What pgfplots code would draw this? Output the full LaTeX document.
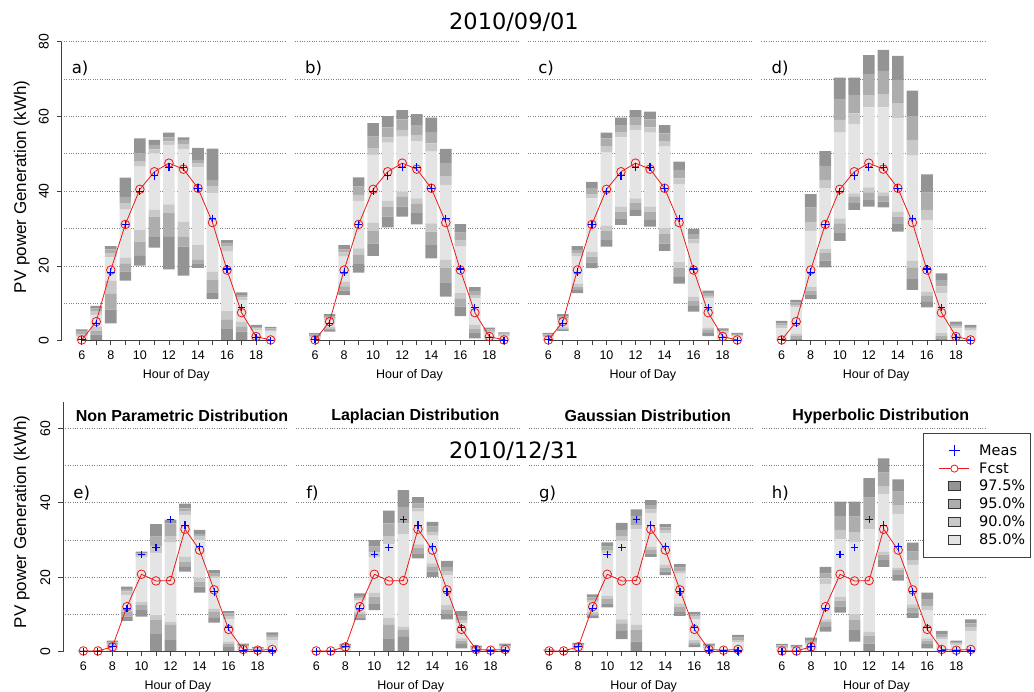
\documentclass[border=0pt]{standalone}
\usepackage{fontspec}
\setmainfont{Liberation Sans}
\newfontfamily\dejavu{DejaVu Sans}
\usepackage{pgfplots}
\usepackage{pgfplotstable}
\pgfplotsset{compat=1.18}
\definecolor{c97}{gray}{0.58}
\definecolor{c95}{gray}{0.68}
\definecolor{c90}{gray}{0.79}
\definecolor{c85}{gray}{0.895}
\definecolor{fred}{RGB}{235,25,25}
\definecolor{mblue}{RGB}{0,0,255}

\pgfplotstableread{
h meas fcst
6 0.3 0.2
7 4.6 5.1
8 18.3 18.9
9 31.1 31.1
10 39.9 40.5
11 44.1 45.2
12 46.4 47.5
13 46.4 45.9
14 40.8 40.8
15 32.7 31.6
16 19.2 18.9
17 8.9 7.5
18 0.9 1.1
19 0.0 0.2
}\tTop
\pgfplotstableread{
h meas fcst
6 0.0 0.2
7 0.0 0.2
8 1.3 1.3
9 11.6 12.1
10 26.1 20.8
11 28.0 19.0
12 35.5 19.1
13 34.0 32.9
14 28.2 27.3
15 16.1 16.6
16 6.5 6.0
17 0.4 0.6
18 0.2 0.4
19 0.2 0.6
}\tBot

\pgfplotstableread{
h l97 l95 l90 l85 u85 u90 u95 u97
6 0 0 0 0 1.1 1.8 2.4 3.0
7 0 1.6 2.7 3.7 6.9 7.8 8.6 9.3
8 4.6 8.3 12.5 16.0 22.3 23.5 24.4 25.3
9 16.1 18.5 20.7 22.2 35.1 36.8 38.5 43.6
10 20.1 22.7 26.5 29.6 46.6 47.9 50.1 54.1
11 24.9 27.7 33.2 35.0 50.1 51.2 52.4 53.7
12 19.1 27.8 34.1 36.5 52.4 53.3 54.4 55.7
13 17.4 25.2 27.8 31.8 51.3 52.6 53.7 54.4
14 19.5 20.7 21.6 25.6 46.4 47.5 48.4 51.6
15 11.1 12.7 16.2 18.5 39.4 41.2 43.0 51.4
16 0 3.3 5.7 7.9 23.8 25.2 26.0 26.9
17 0 2.4 3.7 5.1 10.9 11.6 12.2 12.9
18 0 0 0 0 2.9 3.3 3.7 4.2
19 0 0 0 0 2.4 2.9 3.3 3.7
}\tA
\pgfplotstableread{
h l97 l95 l90 l85 u85 u90 u95 u97
6 0 0 0 0 0.8 1.2 1.6 2.0
7 2.4 2.9 3.3 3.7 5.5 6.1 6.6 7.1
8 12.2 13.4 14.5 15.8 22.5 23.6 24.4 25.6
9 18.2 20.7 22.9 24.7 37.4 39.0 41.2 43.7
10 22.7 26.0 29.3 31.6 49.7 51.5 54.6 58.2
11 30.3 33.2 35.9 37.5 53.0 54.4 57.1 60.1
12 33.2 35.9 38.5 39.9 54.6 56.4 59.2 61.7
13 31.1 34.1 36.6 38.1 53.4 55.0 57.7 60.6
14 22.0 25.6 29.2 31.4 50.6 52.8 55.9 59.7
15 11.8 15.6 19.4 21.6 41.7 43.9 47.6 51.3
16 6.6 9.1 11.3 12.7 25.2 26.8 28.9 31.2
17 0.6 2.0 3.1 4.2 11.3 12.2 13.3 14.3
18 0 0 0 0 2.1 2.6 3.0 3.5
19 0 0 0 0 1.2 1.6 1.9 2.2
}\tB
\pgfplotstableread{
h l97 l95 l90 l85 u85 u90 u95 u97
6 0 0 0 0 0.9 1.3 1.7 2.1
7 2.6 2.9 3.3 3.7 5.5 6.1 6.6 7.1
8 12.7 13.6 14.3 15.2 22.5 23.4 24.3 25.3
9 19.4 20.9 22.5 23.8 38.1 39.2 40.8 42.5
10 25.2 27.1 29.3 30.7 50.3 51.9 54.1 55.7
11 31.0 32.7 34.5 35.9 54.4 55.7 57.7 59.7
12 33.4 35.0 36.8 38.1 56.4 57.7 59.8 61.7
13 30.5 32.3 34.5 35.9 55.7 57.1 59.2 61.3
14 24.0 26.0 28.5 30.1 51.9 53.4 55.5 57.7
15 15.3 17.1 19.4 21.0 41.9 43.4 45.7 47.9
16 7.8 9.3 10.7 11.8 26.0 27.1 28.5 29.9
17 1.2 2.1 2.9 3.5 11.3 12.0 12.7 13.4
18 0 0 0 0 2.1 2.5 2.9 3.3
19 0 0 0 0 1.2 1.5 1.8 2.1
}\tC
\pgfplotstableread{
h l97 l95 l90 l85 u85 u90 u95 u97
6 0 0 0 0 3.3 4.0 4.6 5.3
7 0 0.6 1.2 1.8 8.9 9.5 10.2 10.9
8 11.1 12.2 13.4 14.3 29.4 31.8 35.6 39.2
9 19.6 21.4 23.4 24.5 40.8 43.0 46.8 50.7
10 26.7 29.0 31.4 32.7 55.7 59.1 64.7 70.4
11 35.0 36.8 38.5 39.4 58.0 60.8 65.7 70.4
12 35.9 37.6 39.7 41.0 62.4 65.7 71.4 76.4
13 35.7 37.2 38.8 39.7 62.4 66.0 72.2 77.8
14 29.2 31.2 33.2 34.5 59.5 63.4 69.8 76.2
15 13.6 16.7 19.6 21.4 49.5 53.5 60.1 66.9
16 8.9 10.4 12.0 13.1 32.3 35.0 39.6 44.5
17 0 0.6 1.2 2.0 12.7 14.5 16.2 18.0
18 0 0 0 0 3.3 3.9 4.5 5.1
19 0 0 0 0 2.7 3.2 3.7 4.2
}\tD
\pgfplotstableread{
h l97 l95 l90 l85 u85 u90 u95 u97
6 0 0 0 0 0.15 0.2 0.25 0.3
7 0 0 0 0 0.15 0.2 0.25 0.3
8 0 0 0 0 1.3 2.0 2.5 3.0
9 8.3 9.4 10.7 11.6 15.2 16.2 16.8 17.5
10 9.4 11.2 12.5 13.4 25.5 26.0 26.4 26.9
11 0 4.9 8.5 9.8 26.4 28.2 30.9 34.3
12 0 3.1 7.2 8.1 29.3 30.9 34.5 35.5
13 21.5 22.8 24.2 25.5 36.7 37.6 38.5 39.8
14 15.9 17.5 18.8 19.9 30.0 30.9 31.6 32.7
15 7.8 9.1 10.7 11.6 19.7 20.4 21.0 21.9
16 0 1.2 2.0 2.7 8.7 9.6 10.3 10.9
17 0 0 0 0 1.0 1.4 1.8 2.2
18 0 0 0 0 0.6 0.8 1.0 1.2
19 0 0 0 0 3.1 3.8 4.5 5.2
}\tE
\pgfplotstableread{
h l97 l95 l90 l85 u85 u90 u95 u97
6 0 0 0 0 0.15 0.2 0.25 0.3
7 0 0 0 0 0.15 0.2 0.25 0.3
8 0 0 0 0 0.9 1.3 1.7 2.1
9 8.5 9.2 10.1 10.7 13.7 14.3 15.0 15.7
10 11.2 13.0 14.8 15.8 25.5 26.7 28.2 30.0
11 0 3.6 7.2 9.0 28.8 30.9 34.5 37.9
12 0 4.0 5.8 6.7 31.6 34.5 38.9 43.4
13 25.1 26.4 27.8 28.8 37.6 38.5 39.8 41.5
14 20.1 21.5 22.8 23.7 31.2 32.2 33.6 34.9
15 8.7 10.1 11.4 12.5 20.6 21.5 22.8 24.4
16 0.9 2.1 3.0 3.6 7.6 8.5 9.4 10.9
17 0 0 0 0 0.7 1.0 1.3 1.6
18 0 0 0 0 0.3 0.4 0.5 0.6
19 0 0 0 0 1.0 1.4 1.8 2.2
}\tF
\pgfplotstableread{
h l97 l95 l90 l85 u85 u90 u95 u97
6 0 0 0 0 0.3 0.4 0.5 0.6
7 0 0 0 0 0.15 0.2 0.25 0.3
8 0 0 0 0 1.2 1.6 2.0 2.4
9 9.0 9.6 10.1 10.7 13.2 13.9 14.6 15.4
10 11.9 13.0 14.1 15.0 26.4 27.3 28.2 29.4
11 3.4 5.6 7.6 8.7 29.8 30.9 32.7 34.6
12 0 2.7 5.8 7.2 32.9 34.0 36.3 38.2
13 25.5 26.4 27.3 28.2 37.3 38.2 39.4 40.7
14 20.6 21.5 22.6 23.3 31.8 32.5 33.4 34.3
15 9.6 10.7 12.1 13.0 21.0 21.7 22.6 23.5
16 1.2 1.8 2.5 3.1 8.7 9.4 10.0 10.7
17 0 0 0 0 1.0 1.4 1.8 2.2
18 0 0 0 0 0.25 0.35 0.45 0.5
19 0 0 0 0 2.5 3.1 3.8 4.5
}\tG
\pgfplotstableread{
h l97 l95 l90 l85 u85 u90 u95 u97
6 0 0 0 0 0.9 1.3 1.7 2.1
7 0 0 0 0 0.8 1.1 1.5 1.8
8 0 0 0 0 2.0 2.6 3.2 3.8
9 5.4 6.7 8.1 8.7 18.2 19.7 21.0 22.8
10 10.5 12.1 13.7 14.8 30.2 32.7 36.4 40.3
11 2.7 5.8 8.5 10.1 29.5 32.0 36.3 40.3
12 0 2.2 4.2 5.4 32.9 35.4 41.4 46.6
13 22.8 24.6 26.1 26.9 42.3 44.5 48.1 51.9
14 19.1 20.6 21.9 22.6 37.0 39.4 43.0 46.3
15 9.1 10.5 11.9 12.7 23.3 24.6 26.9 29.3
16 0.9 2.0 3.0 3.6 11.2 12.3 14.1 15.9
17 0 0 0 0 3.4 4.0 4.7 5.6
18 0 0 0 0 1.8 2.2 2.6 3.0
19 0 0 0 0 5.6 6.7 7.6 8.7
}\tH

\newcommand{\bands}[1]{%
\addplot[draw=none, fill=none, forget plot] table[x=h, y=l97]{#1};
\addplot[draw=none, fill=c97, forget plot] table[x=h, y expr=\thisrow{l95}-\thisrow{l97}]{#1};
\addplot[draw=none, fill=c95, forget plot] table[x=h, y expr=\thisrow{l90}-\thisrow{l95}]{#1};
\addplot[draw=none, fill=c90, forget plot] table[x=h, y expr=\thisrow{l85}-\thisrow{l90}]{#1};
\addplot[draw=none, fill=c85, forget plot] table[x=h, y expr=\thisrow{u85}-\thisrow{l85}]{#1};
\addplot[draw=none, fill=c90, forget plot] table[x=h, y expr=\thisrow{u90}-\thisrow{u85}]{#1};
\addplot[draw=none, fill=c95, forget plot] table[x=h, y expr=\thisrow{u95}-\thisrow{u90}]{#1};
\addplot[draw=none, fill=c97, forget plot] table[x=h, y expr=\thisrow{u97}-\thisrow{u95}]{#1};
}
\newcommand{\lines}[1]{%
\addplot[fred, line width=0.8pt, mark=o, mark size=4.3pt, mark options={solid, line width=0.8pt}, forget plot] table[x=h, y=fcst]{#1};
\addplot[only marks, mark=+, draw=mblue, mark size=3.8pt, mark options={line width=1.2pt, draw=mblue}, forget plot] table[x=h, y=meas]{#1};
\draw[black!75, line width=0.8pt] (axis cs:6,0) -- (axis cs:19,0);
}

\tikzset{plab/.style={anchor=west, inner sep=0pt, font=\dejavu\fontsize{16.5}{18}\selectfont}}

\pgfplotsset{
  base/.style={scale only axis, width=225.2pt, xmin=4.6, xmax=20.1, ymin=0, anchor=south west},
  barax/.style={base, ybar stacked, bar width=0.8,
    axis x line*=bottom, axis y line*=left, axis line style={draw=none},
    xtick={6,...,19}, xticklabels={6,,8,,10,,12,,14,,16,,18,},
    tick align=outside, major tick length=4.5pt,
    tick style={black!75, line width=0.8pt},
    xticklabel style={font=\fontsize{12.5}{14}\selectfont, yshift=-2pt},
    ytick=\empty,
    extra y tick labels={},
    extra y tick style={grid=major, major tick length=0pt},
    major grid style={dotted, black!50, line width=0.7pt},
    xlabel={Hour of Day},
    xlabel style={font=\fontsize{12.5}{14}\selectfont, at={(axis description cs:0.51,0)}, anchor=north, inner sep=0pt, yshift=-28.5pt},
  },
  lineax/.style={base, hide axis, clip=false},
  ylab/.style={ytick={0,20,40,60,80}, yticklabels={0,20,40,60,80},
    yticklabel style={rotate=90, anchor=south, inner sep=8pt, font=\fontsize{14}{16}\selectfont}},
}

\begin{document}
\begin{tikzpicture}
\useasboundingbox (0pt,0pt) rectangle (1034pt,692pt);
% ---------- top row ----------
\begin{axis}[barax, ylab, height=299pt, ymax=80, at={(61.4pt,351.3pt)}, extra y ticks={10,20,...,80}]
\bands{\tA}
\end{axis}
\begin{axis}[lineax, height=299pt, ymax=80, at={(61.4pt,351.3pt)}]
\lines{\tTop}
\draw[black!75, line width=0.8pt] (axis cs:4.6,0) -- (axis cs:4.6,80);
\node[plab] at (axis cs:5.3,73) {a)};
\end{axis}

\begin{axis}[barax, height=299pt, ymax=80, at={(294.7pt,351.3pt)}, extra y ticks={10,20,...,80}]
\bands{\tB}
\end{axis}
\begin{axis}[lineax, height=299pt, ymax=80, at={(294.7pt,351.3pt)}]
\lines{\tTop}
\node[plab] at (axis cs:5.3,73) {b)};
\end{axis}

\begin{axis}[barax, height=299pt, ymax=80, at={(528.0pt,351.3pt)}, extra y ticks={10,20,...,80}]
\bands{\tC}
\end{axis}
\begin{axis}[lineax, height=299pt, ymax=80, at={(528.0pt,351.3pt)}]
\lines{\tTop}
\node[plab] at (axis cs:5.3,73) {c)};
\end{axis}

\begin{axis}[barax, height=299pt, ymax=80, at={(761.3pt,351.3pt)}, extra y ticks={10,20,...,80}]
\bands{\tD}
\end{axis}
\begin{axis}[lineax, height=299pt, ymax=80, at={(761.3pt,351.3pt)}]
\lines{\tTop}
\node[plab] at (axis cs:5.3,73) {d)};
\end{axis}

% ---------- bottom row ----------
\begin{axis}[barax, ylab, height=249.4pt, ymax=67, at={(63.0pt,40.3pt)}, ytick={0,20,40,60}, yticklabels={0,20,40,60}, extra y ticks={10,20,...,60}]
\bands{\tE}
\end{axis}
\begin{axis}[lineax, height=249.4pt, ymax=67, at={(63.0pt,40.3pt)}]
\lines{\tBot}
\draw[black!75, line width=0.8pt] (axis cs:4.6,0) -- (axis cs:4.6,67);
\node[plab] at (axis cs:5.3,42.5) {e)};
\end{axis}

\begin{axis}[barax, height=249.4pt, ymax=67, at={(295.9pt,40.3pt)}, extra y ticks={10,20,...,60}]
\bands{\tF}
\end{axis}
\begin{axis}[lineax, height=249.4pt, ymax=67, at={(295.9pt,40.3pt)}]
\lines{\tBot}
\node[plab] at (axis cs:5.3,42.5) {f)};
\end{axis}

\begin{axis}[barax, height=249.4pt, ymax=67, at={(528.8pt,40.3pt)}, extra y ticks={10,20,...,60}]
\bands{\tG}
\end{axis}
\begin{axis}[lineax, height=249.4pt, ymax=67, at={(528.8pt,40.3pt)}]
\lines{\tBot}
\node[plab] at (axis cs:5.3,42.5) {g)};
\end{axis}

\begin{axis}[barax, height=249.4pt, ymax=67, at={(761.6pt,40.3pt)}, extra y ticks={10,20,...,60}]
\bands{\tH}
\end{axis}
\begin{axis}[lineax, height=249.4pt, ymax=67, at={(761.6pt,40.3pt)},
  legend style={at={(0.718,0.877)}, anchor=north west, draw=black!75, line width=0.8pt,
    font=\dejavu\fontsize{14.5}{17}\selectfont, inner xsep=4pt, inner ysep=10pt,
    nodes={inner sep=1.5pt}, cells={anchor=west}, row sep=2.6pt}]
\lines{\tBot}
\node[plab] at (axis cs:5.3,42.5) {h)};
\addlegendimage{legend image code/.code={\path[draw=none, fill=none] (0pt,-5pt) rectangle (50pt,5pt); \draw[mblue, line width=1.1pt] (26.7pt,-5.5pt)--(26.7pt,5.5pt) (21.2pt,0pt)--(32.2pt,0pt);}}
\addlegendentry{Meas}
\addlegendimage{legend image code/.code={\path[draw=none, fill=none] (0pt,-5pt) rectangle (50pt,5pt); \draw[fred, line width=0.8pt] (11.7pt,0pt)--(41.7pt,0pt); \draw[fred, line width=0.8pt, fill=white] (26.7pt,0pt) circle (3.6pt);}}
\addlegendentry{Fcst}
\addlegendimage{legend image code/.code={\path[draw=none, fill=none] (0pt,-5pt) rectangle (50pt,5pt); \draw[black!80, line width=0.7pt, fill=c97] (21pt,-4.5pt) rectangle (32.4pt,4.5pt);}}
\addlegendentry{97.5\%}
\addlegendimage{legend image code/.code={\path[draw=none, fill=none] (0pt,-5pt) rectangle (50pt,5pt); \draw[black!80, line width=0.7pt, fill=c95] (21pt,-4.5pt) rectangle (32.4pt,4.5pt);}}
\addlegendentry{95.0\%}
\addlegendimage{legend image code/.code={\path[draw=none, fill=none] (0pt,-5pt) rectangle (50pt,5pt); \draw[black!80, line width=0.7pt, fill=c90] (21pt,-4.5pt) rectangle (32.4pt,4.5pt);}}
\addlegendentry{90.0\%}
\addlegendimage{legend image code/.code={\path[draw=none, fill=none] (0pt,-5pt) rectangle (50pt,5pt); \draw[black!80, line width=0.7pt, fill=c85] (21pt,-4.5pt) rectangle (32.4pt,4.5pt);}}
\addlegendentry{85.0\%}
\end{axis}

% ---------- texts ----------
\node[font=\dejavu\fontsize{22.5}{26}\selectfont] at (514pt,670pt) {2010/09/01};
\node[font=\dejavu\fontsize{22.5}{26}\selectfont] at (514pt,240.3pt) {2010/12/31};
\node[rotate=90, font=\fontsize{17}{20}\selectfont] at (21.7pt,505pt) {PV power Generation (kWh)};
\node[rotate=90, font=\fontsize{17}{20}\selectfont] at (21.7pt,170pt) {PV power Generation (kWh)};
\node[font=\bfseries\fontsize{16}{18}\selectfont] at (182pt,276pt) {Non Parametric Distribution};
\node[font=\bfseries\fontsize{16}{18}\selectfont] at (415.3pt,276pt) {Laplacian Distribution};
\node[font=\bfseries\fontsize{16}{18}\selectfont] at (647.8pt,276pt) {Gaussian Distribution};
\node[font=\bfseries\fontsize{16}{18}\selectfont] at (880.7pt,276pt) {Hyperbolic Distribution};
\end{tikzpicture}
\end{document}
